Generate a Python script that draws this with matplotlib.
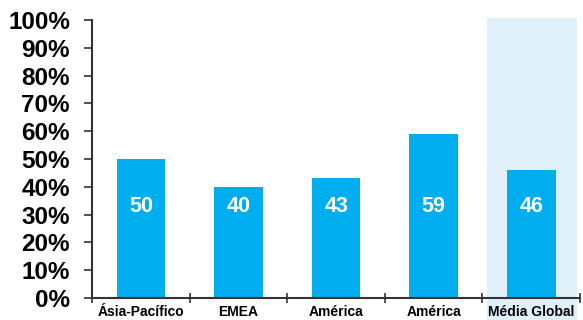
import matplotlib.pyplot as plt
from matplotlib.patches import Rectangle

plt.rcParams['font.family'] = ['Liberation Sans', 'DejaVu Sans']

regions = ['Ásia-Pacífico', 'EMEA', 'América', 'América', 'Média Global']
values = [50, 40, 43, 59, 46]
yticks = [0, 10, 20, 30, 40, 50, 60, 70, 80, 90, 100]

bar_color = '#00aeef'
axis_color = '#333333'

fig = plt.figure(figsize=(5.83, 3.2), dpi=100)
ax = fig.add_axes([0.158, 0.069, 0.837, 0.8685])

x = list(range(len(regions)))

# light highlight behind the global average
ax.add_patch(Rectangle((3.55, -8), 0.92, 108.7, facecolor='#dff0fb',
                       edgecolor='none', zorder=0, clip_on=False))

ax.bar(x, values, width=0.5, color=bar_color, zorder=2)
for xi, v in zip(x, values):
    ax.text(xi, 33, str(v), ha='center', va='center', color='white',
            fontsize=15.5, fontweight='bold', zorder=3)

ax.set_xlim(-0.5, 4.5)
ax.set_ylim(0, 100)
ax.set_yticks(yticks)
ax.set_yticklabels([f'{t}%' for t in yticks], fontsize=17.5, fontweight='bold')

# category boundary ticks on the x axis
ax.set_xticks([b - 0.5 for b in range(len(regions) + 1)])
ax.set_xticklabels([])
for xi, name in zip(x, regions):
    ax.text(xi, -2.5, name, ha='center', va='top', fontsize=10,
            fontweight='bold', transform=ax.transData, zorder=3)

for side in ['top', 'right']:
    ax.spines[side].set_visible(False)
for side in ['left', 'bottom']:
    ax.spines[side].set_color(axis_color)
    ax.spines[side].set_linewidth(1.5)

ax.tick_params(axis='y', direction='out', length=6, width=1.2,
               color=axis_color, pad=10)
ax.tick_params(axis='x', direction='inout', length=7, width=1.2,
               color=axis_color)
ax.patch.set_alpha(0)

fig.savefig('out.png', dpi=100)
